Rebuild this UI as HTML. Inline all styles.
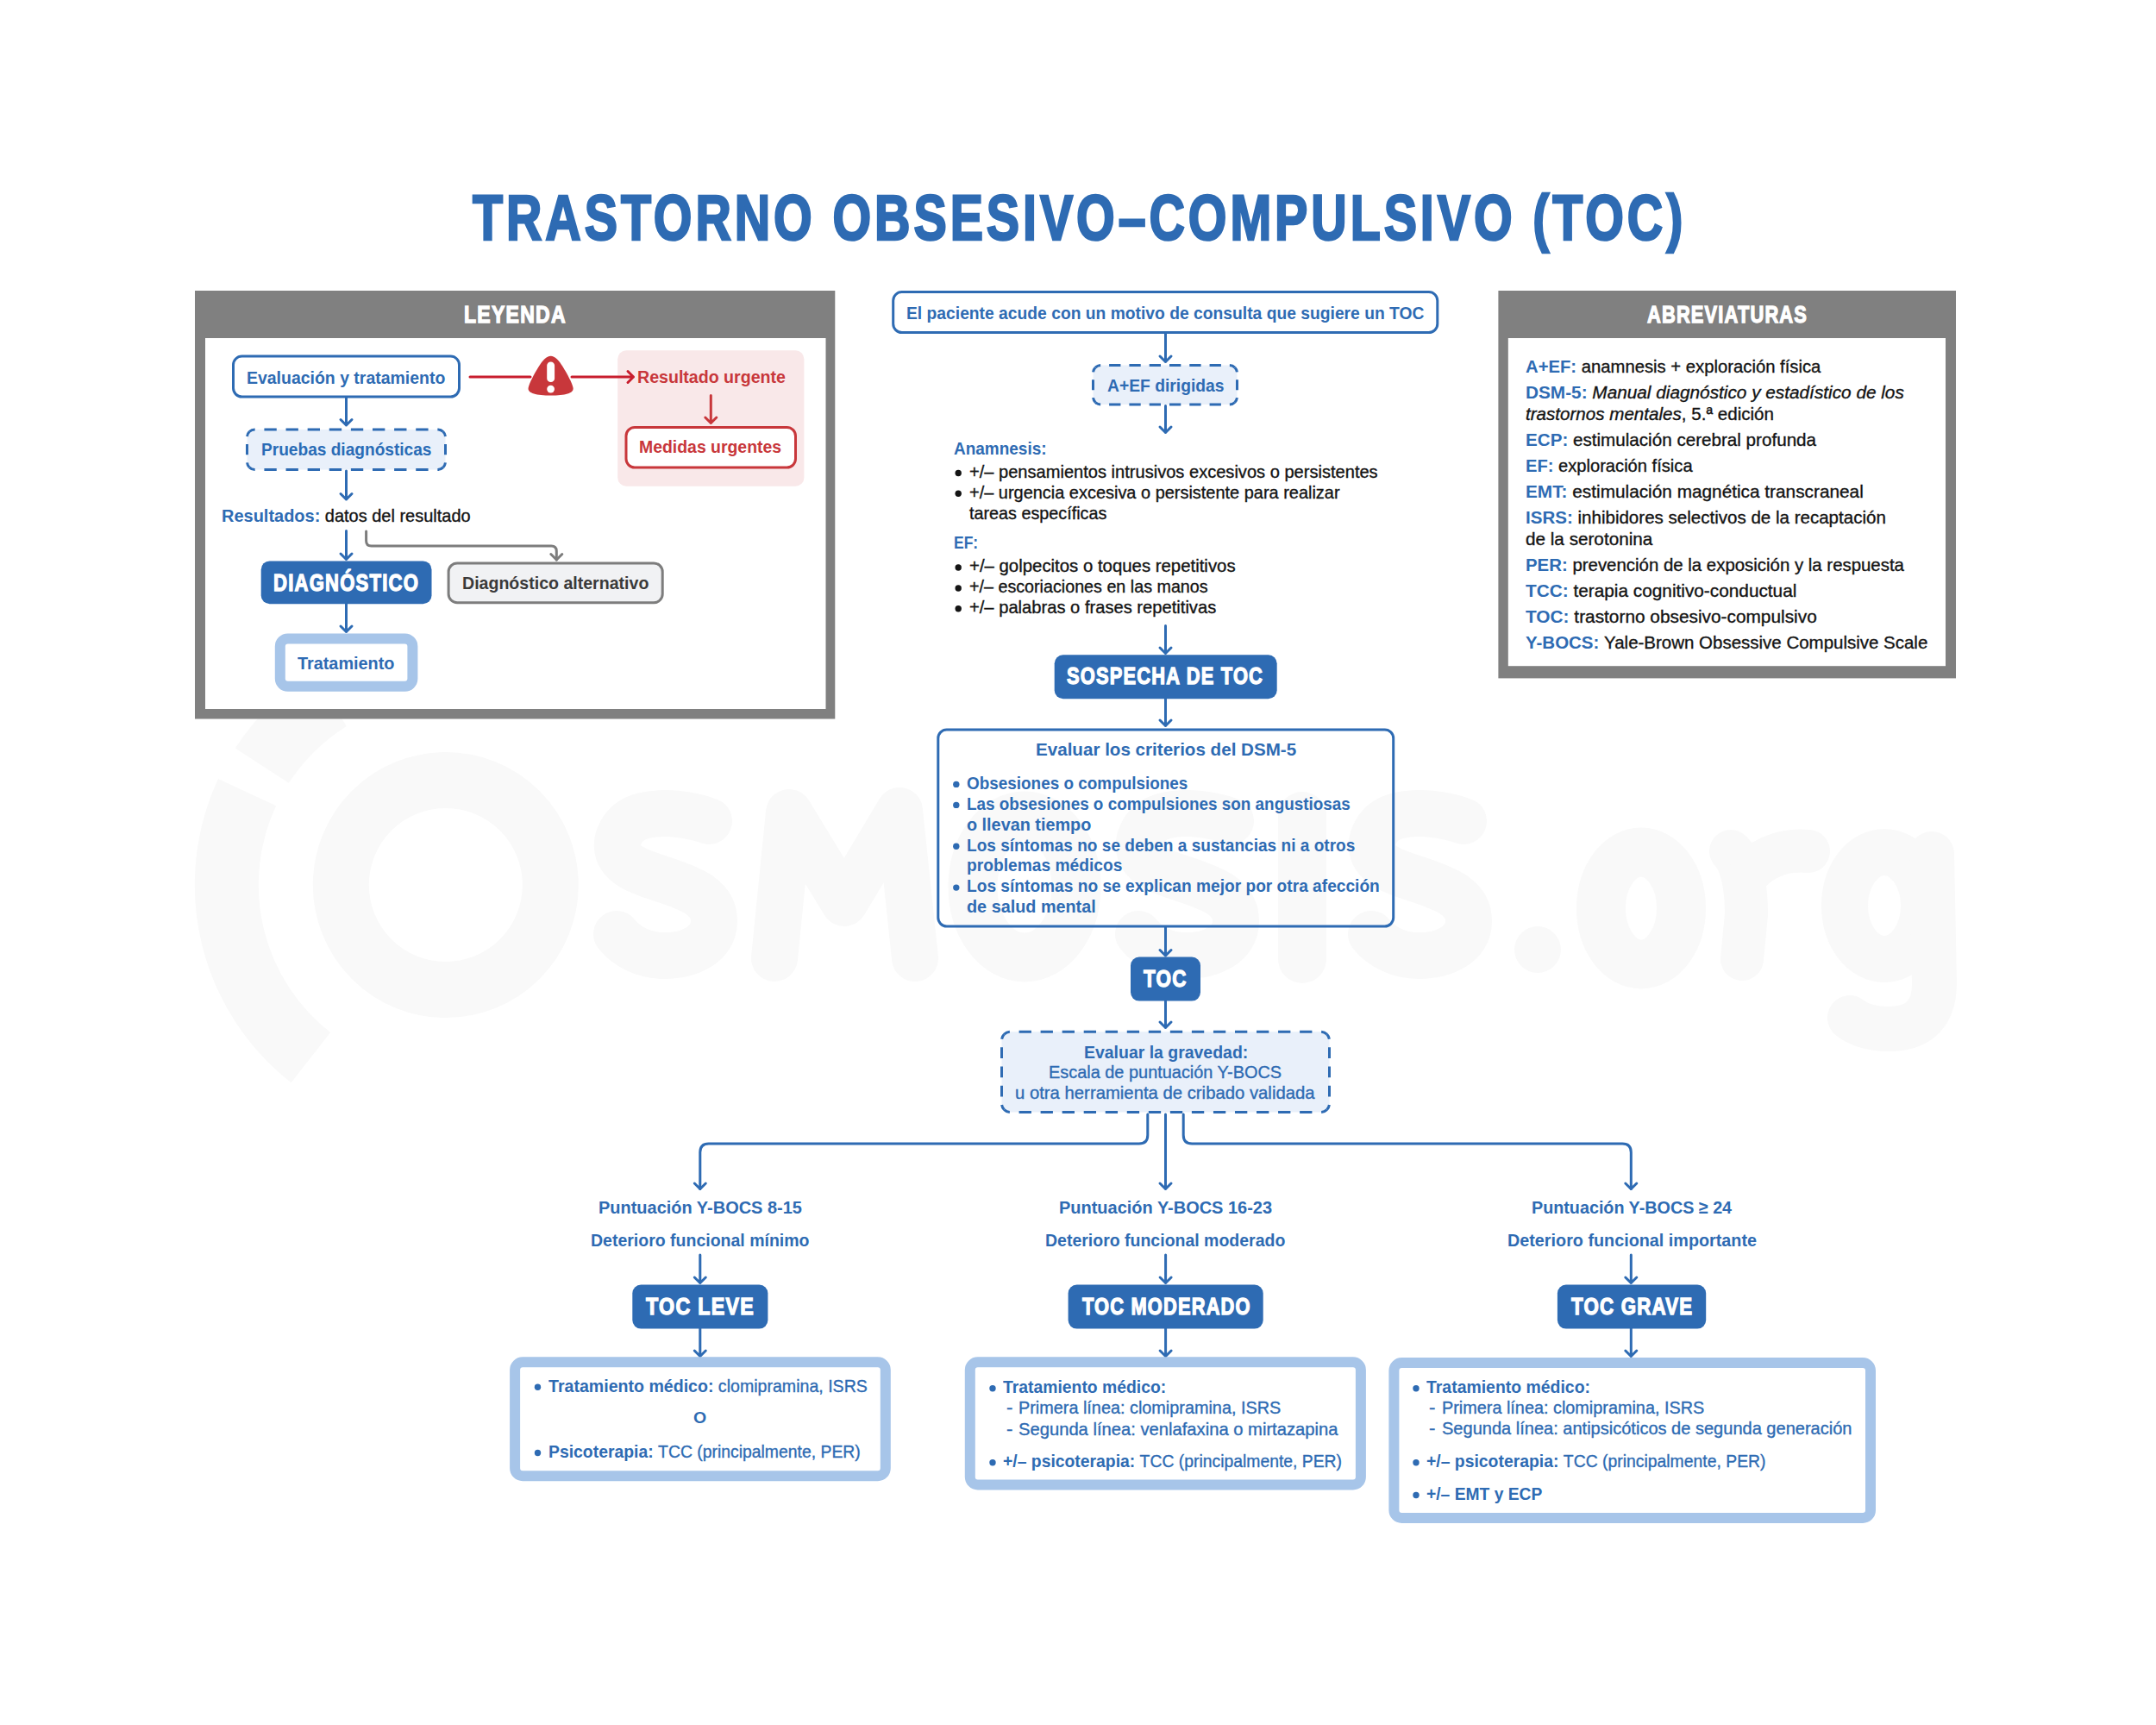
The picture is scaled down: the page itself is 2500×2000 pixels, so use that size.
<!DOCTYPE html>
<html><head><meta charset="utf-8"><style>
html,body{margin:0;padding:0;background:#fff;width:2500px;height:2000px;overflow:hidden;}
.t{position:absolute;white-space:nowrap;line-height:1;font-family:"Liberation Sans",sans-serif;transform-origin:0 0;}
.r{font-weight:normal;-webkit-text-stroke:0.35px currentColor;}
.n{-webkit-text-stroke:0.35px currentColor;}
svg{position:absolute;left:0;top:0;}
</style></head><body>

<svg width="2500" height="2000" viewBox="0 0 2500 2000">
<circle cx="516.8" cy="1026" r="121.5" fill="none" stroke="#f9f9f9" stroke-width="65"/>
<path d="M360.4 1226.2 A254.0 254.0 0 0 1 286.6 918.7" fill="none" stroke="#f9f9f9" stroke-width="74.0" stroke-linecap="butt" stroke-linejoin="round"/>
<path d="M303.8 887.7 A254.0 254.0 0 0 1 382.2 810.6" fill="none" stroke="#f9f9f9" stroke-width="74.0" stroke-linecap="butt" stroke-linejoin="round"/>
<path d="M822.0 952.0 C800.0 944.0 770.0 940.0 745.0 946.0 C720.0 953.0 713.0 975.0 717.0 988.0 C723.0 1005.0 745.0 1012.0 770.0 1020.0 C800.0 1030.0 828.0 1040.0 828.0 1068.0 C828.0 1095.0 800.0 1108.0 770.0 1108.0 C747.0 1108.0 727.0 1098.0 715.0 1083.0" fill="none" stroke="#f9f9f9" stroke-width="54.0" stroke-linecap="round" stroke-linejoin="round"/>
<path d="M898 1111 L915 942 L979 1047 L1043 940 L1061 1111" fill="none" stroke="#f9f9f9" stroke-width="54.0" stroke-linecap="round" stroke-linejoin="round"/>
<ellipse cx="1188" cy="1028" rx="60" ry="82" fill="none" stroke="#f9f9f9" stroke-width="57"/>
<path d="M1427.0 952.0 C1405.0 944.0 1375.0 940.0 1350.0 946.0 C1325.0 953.0 1318.0 975.0 1322.0 988.0 C1328.0 1005.0 1350.0 1012.0 1375.0 1020.0 C1405.0 1030.0 1433.0 1040.0 1433.0 1068.0 C1433.0 1095.0 1405.0 1108.0 1375.0 1108.0 C1352.0 1108.0 1332.0 1098.0 1320.0 1083.0" fill="none" stroke="#f9f9f9" stroke-width="54.0" stroke-linecap="round" stroke-linejoin="round"/>
<path d="M1510 946 L1510 1112" fill="none" stroke="#f9f9f9" stroke-width="56.0" stroke-linecap="round" stroke-linejoin="round"/>
<path d="M1697.0 952.0 C1675.0 944.0 1645.0 940.0 1620.0 946.0 C1595.0 953.0 1588.0 975.0 1592.0 988.0 C1598.0 1005.0 1620.0 1012.0 1645.0 1020.0 C1675.0 1030.0 1703.0 1040.0 1703.0 1068.0 C1703.0 1095.0 1675.0 1108.0 1645.0 1108.0 C1622.0 1108.0 1602.0 1098.0 1590.0 1083.0" fill="none" stroke="#f9f9f9" stroke-width="54.0" stroke-linecap="round" stroke-linejoin="round"/>
<circle cx="1783" cy="1101" r="27" fill="#f9f9f9"/>
<ellipse cx="1903" cy="1053" rx="46.5" ry="65" fill="none" stroke="#f9f9f9" stroke-width="57"/>
<path d="M2007 987 C2020 1000 2025 1030 2025 1060 L2020 1112" fill="none" stroke="#f9f9f9" stroke-width="50.0" stroke-linecap="round" stroke-linejoin="round"/>
<path d="M2030 1010 C2050 990 2075 985 2097 987" fill="none" stroke="#f9f9f9" stroke-width="50.0" stroke-linecap="round" stroke-linejoin="round"/>
<ellipse cx="2185" cy="1050" rx="46" ry="62" fill="none" stroke="#f9f9f9" stroke-width="54"/>
<path d="M2240 990 L2243 1140 C2243 1180 2220 1193 2190 1193 C2170 1193 2155 1188 2145 1180" fill="none" stroke="#f9f9f9" stroke-width="52.0" stroke-linecap="round" stroke-linejoin="round"/>
<rect x="226.0" y="337.0" width="742.3" height="496.5" rx="0.0" fill="#808080"/>
<rect x="238.0" y="392.0" width="719.5" height="430.0" rx="0.0" fill="#fff"/>
<rect x="270.5" y="413.1" width="262.0" height="46.9" rx="10.0" fill="#fff" stroke="#2e6bb3" stroke-width="3.0"/>
<path d="M401.5 461.0 V493.0 M395.0 486.5 L401.5 493.0 L408.0 486.5" fill="none" stroke="#2e6bb3" stroke-width="3.0" stroke-linecap="round" stroke-linejoin="round"/>
<rect x="286.5" y="497.9" width="230.0" height="46.6" rx="9.0" fill="#e9f0fa"/>
<path d="M289.14 500.54 A9.00 9.00 0 0 1 295.50 497.90 H507.50 A9.00 9.00 0 0 1 513.86 500.54" fill="none" stroke="#2e6bb3" stroke-width="3.0" pathLength="220.50" stroke-dasharray="14.00 10.50" stroke-dashoffset="7.00" stroke-linecap="butt"/>
<path d="M513.86 500.54 A9.00 9.00 0 0 1 516.50 506.90 V535.50 A9.00 9.00 0 0 1 513.86 541.86" fill="none" stroke="#2e6bb3" stroke-width="3.0" pathLength="49.00" stroke-dasharray="14.00 10.50" stroke-dashoffset="7.00" stroke-linecap="butt"/>
<path d="M513.86 541.86 A9.00 9.00 0 0 1 507.50 544.50 H295.50 A9.00 9.00 0 0 1 289.14 541.86" fill="none" stroke="#2e6bb3" stroke-width="3.0" pathLength="220.50" stroke-dasharray="14.00 10.50" stroke-dashoffset="7.00" stroke-linecap="butt"/>
<path d="M289.14 541.86 A9.00 9.00 0 0 1 286.50 535.50 V506.90 A9.00 9.00 0 0 1 289.14 500.54" fill="none" stroke="#2e6bb3" stroke-width="3.0" pathLength="49.00" stroke-dasharray="14.00 10.50" stroke-dashoffset="7.00" stroke-linecap="butt"/>
<path d="M401.5 546.0 V579.0 M395.0 572.5 L401.5 579.0 L408.0 572.5" fill="none" stroke="#2e6bb3" stroke-width="3.0" stroke-linecap="round" stroke-linejoin="round"/>
<path d="M401.5 615.5 V648.5 M395.0 642.0 L401.5 648.5 L408.0 642.0" fill="none" stroke="#2e6bb3" stroke-width="3.0" stroke-linecap="round" stroke-linejoin="round"/>
<path d="M424.6 616 V627 Q424.6 633 430.6 633 H639.3 Q645.3 633 645.3 639 V649" fill="none" stroke="#7d7d7d" stroke-width="3.0" stroke-linecap="round" stroke-linejoin="round"/>
<path d="M638.8 642.5 L645.3 649 L651.8 642.5" fill="none" stroke="#7d7d7d" stroke-width="3.0" stroke-linecap="round" stroke-linejoin="round"/>
<rect x="302.7" y="650.4" width="197.8" height="49.8" rx="10.0" fill="#2e6bb3"/>
<rect x="520.1" y="653.0" width="248.1" height="45.7" rx="10.0" fill="#f1f2f4" stroke="#7d7d7d" stroke-width="3.0"/>
<path d="M401.5 700.0 V732.5 M395.0 726.0 L401.5 732.5 L408.0 726.0" fill="none" stroke="#2e6bb3" stroke-width="3.0" stroke-linecap="round" stroke-linejoin="round"/>
<rect x="324.8" y="740.4" width="153.6" height="55.4" rx="9.0" fill="#fff" stroke="#a7c5e9" stroke-width="12.0"/>
<rect x="716.2" y="406.2" width="216.2" height="157.5" rx="10.0" fill="#f9e8e9"/>
<path d="M545 437 H615" fill="none" stroke="#c81e2e" stroke-width="3.0" stroke-linecap="round" stroke-linejoin="round"/>
<path d="M663 437 H734.5 M728 430.5 L734.5 437 L728 443.5" fill="none" stroke="#c81e2e" stroke-width="3.0" stroke-linecap="round" stroke-linejoin="round"/>
<path d="M638.6 412.8 C643.5 412.8 648 418 652.5 425 C658 434 663.5 444 664.6 450 C665.5 456 655 458.6 638.6 458.6 C622.2 458.6 611.7 456 612.6 450 C613.7 444 619.2 434 624.7 425 C629.2 418 633.7 412.8 638.6 412.8 Z" fill="#c8373b"/>
<rect x="634.2" y="419.4" width="8.9" height="23.7" rx="4.45" fill="#fff"/><circle cx="638.6" cy="451.1" r="4.4" fill="#fff"/>
<path d="M824.3 458.4 V490.5 M817.8 484.0 L824.3 490.5 L830.8 484.0" fill="none" stroke="#c8373b" stroke-width="3.0" stroke-linecap="round" stroke-linejoin="round"/>
<rect x="726.0" y="495.5" width="196.5" height="46.6" rx="10.0" fill="#fff" stroke="#c8373b" stroke-width="3.0"/>
<rect x="1737.4" y="337.0" width="530.6" height="449.4" rx="0.0" fill="#808080"/>
<rect x="1748.8" y="392.0" width="507.2" height="380.2" rx="0.0" fill="#fff"/>
<rect x="1035.7" y="338.6" width="631.1" height="46.9" rx="10.0" fill="#fff" stroke="#2e6bb3" stroke-width="3.0"/>
<path d="M1351.5 386.0 V419.5 M1345.0 413.0 L1351.5 419.5 L1358.0 413.0" fill="none" stroke="#2e6bb3" stroke-width="3.0" stroke-linecap="round" stroke-linejoin="round"/>
<rect x="1267.5" y="423.5" width="167.0" height="45.6" rx="9.0" fill="#e9f0fa"/>
<path d="M1270.14 426.14 A9.00 9.00 0 0 1 1276.50 423.50 H1425.50 A9.00 9.00 0 0 1 1431.86 426.14" fill="none" stroke="#2e6bb3" stroke-width="3.0" pathLength="171.50" stroke-dasharray="14.00 10.50" stroke-dashoffset="7.00" stroke-linecap="butt"/>
<path d="M1431.86 426.14 A9.00 9.00 0 0 1 1434.50 432.50 V460.10 A9.00 9.00 0 0 1 1431.86 466.46" fill="none" stroke="#2e6bb3" stroke-width="3.0" pathLength="49.00" stroke-dasharray="14.00 10.50" stroke-dashoffset="7.00" stroke-linecap="butt"/>
<path d="M1431.86 466.46 A9.00 9.00 0 0 1 1425.50 469.10 H1276.50 A9.00 9.00 0 0 1 1270.14 466.46" fill="none" stroke="#2e6bb3" stroke-width="3.0" pathLength="171.50" stroke-dasharray="14.00 10.50" stroke-dashoffset="7.00" stroke-linecap="butt"/>
<path d="M1270.14 466.46 A9.00 9.00 0 0 1 1267.50 460.10 V432.50 A9.00 9.00 0 0 1 1270.14 426.14" fill="none" stroke="#2e6bb3" stroke-width="3.0" pathLength="49.00" stroke-dasharray="14.00 10.50" stroke-dashoffset="7.00" stroke-linecap="butt"/>
<path d="M1351.5 470.6 V501.5 M1345.0 495.0 L1351.5 501.5 L1358.0 495.0" fill="none" stroke="#2e6bb3" stroke-width="3.0" stroke-linecap="round" stroke-linejoin="round"/>
<circle cx="1111.2" cy="548.5" r="3.7" fill="#141414"/>
<circle cx="1111.2" cy="572.3" r="3.7" fill="#141414"/>
<circle cx="1111.2" cy="658.0" r="3.7" fill="#141414"/>
<circle cx="1111.2" cy="682.0" r="3.7" fill="#141414"/>
<circle cx="1111.2" cy="705.8" r="3.7" fill="#141414"/>
<path d="M1351.5 725.5 V757.5 M1345.0 751.0 L1351.5 757.5 L1358.0 751.0" fill="none" stroke="#2e6bb3" stroke-width="3.0" stroke-linecap="round" stroke-linejoin="round"/>
<rect x="1222.7" y="759.3" width="258.0" height="50.9" rx="10.0" fill="#2e6bb3"/>
<path d="M1351.5 810.0 V841.5 M1345.0 835.0 L1351.5 841.5 L1358.0 835.0" fill="none" stroke="#2e6bb3" stroke-width="3.0" stroke-linecap="round" stroke-linejoin="round"/>
<rect x="1087.8" y="846.0" width="527.9" height="228.1" rx="10.0" fill="none" stroke="#2e6bb3" stroke-width="3.0"/>
<circle cx="1108.8" cy="909.4" r="3.7" fill="#2e6bb3"/>
<circle cx="1108.8" cy="933.4" r="3.7" fill="#2e6bb3"/>
<circle cx="1108.8" cy="981.3" r="3.7" fill="#2e6bb3"/>
<circle cx="1108.8" cy="1029.1" r="3.7" fill="#2e6bb3"/>
<path d="M1351.5 1075.0 V1108.0 M1345.0 1101.5 L1351.5 1108.0 L1358.0 1101.5" fill="none" stroke="#2e6bb3" stroke-width="3.0" stroke-linecap="round" stroke-linejoin="round"/>
<rect x="1311.0" y="1109.6" width="81.0" height="51.0" rx="10.0" fill="#2e6bb3"/>
<path d="M1351.5 1160.5 V1191.5 M1345.0 1185.0 L1351.5 1191.5 L1358.0 1185.0" fill="none" stroke="#2e6bb3" stroke-width="3.0" stroke-linecap="round" stroke-linejoin="round"/>
<rect x="1161.5" y="1196.2" width="380.0" height="93.3" rx="10.0" fill="#e9f0fa"/>
<path d="M1164.43 1199.13 A10.00 10.00 0 0 1 1171.50 1196.20 H1531.50 A10.00 10.00 0 0 1 1538.57 1199.13" fill="none" stroke="#2e6bb3" stroke-width="3.0" pathLength="367.50" stroke-dasharray="14.00 10.50" stroke-dashoffset="7.00" stroke-linecap="butt"/>
<path d="M1538.57 1199.13 A10.00 10.00 0 0 1 1541.50 1206.20 V1279.50 A10.00 10.00 0 0 1 1538.57 1286.57" fill="none" stroke="#2e6bb3" stroke-width="3.0" pathLength="98.00" stroke-dasharray="14.00 10.50" stroke-dashoffset="7.00" stroke-linecap="butt"/>
<path d="M1538.57 1286.57 A10.00 10.00 0 0 1 1531.50 1289.50 H1171.50 A10.00 10.00 0 0 1 1164.43 1286.57" fill="none" stroke="#2e6bb3" stroke-width="3.0" pathLength="367.50" stroke-dasharray="14.00 10.50" stroke-dashoffset="7.00" stroke-linecap="butt"/>
<path d="M1164.43 1286.57 A10.00 10.00 0 0 1 1161.50 1279.50 V1206.20 A10.00 10.00 0 0 1 1164.43 1199.13" fill="none" stroke="#2e6bb3" stroke-width="3.0" pathLength="98.00" stroke-dasharray="14.00 10.50" stroke-dashoffset="7.00" stroke-linecap="butt"/>
<path d="M1330.8 1292 V1316 Q1330.8 1326 1320.8 1326 H821.8 Q811.8 1326 811.8 1336 V1378.5" fill="none" stroke="#2e6bb3" stroke-width="3.0" stroke-linecap="round" stroke-linejoin="round"/>
<path d="M805.3 1372 L811.8 1378.5 L818.3 1372" fill="none" stroke="#2e6bb3" stroke-width="3.0" stroke-linecap="round" stroke-linejoin="round"/>
<path d="M1351.5 1292.0 V1378.5 M1345.0 1372.0 L1351.5 1378.5 L1358.0 1372.0" fill="none" stroke="#2e6bb3" stroke-width="3.0" stroke-linecap="round" stroke-linejoin="round"/>
<path d="M1372.2 1292 V1316 Q1372.2 1326 1382.2 1326 H1881.3 Q1891.3 1326 1891.3 1336 V1378.5" fill="none" stroke="#2e6bb3" stroke-width="3.0" stroke-linecap="round" stroke-linejoin="round"/>
<path d="M1884.8 1372 L1891.3 1378.5 L1897.8 1372" fill="none" stroke="#2e6bb3" stroke-width="3.0" stroke-linecap="round" stroke-linejoin="round"/>
<path d="M811.8 1455.0 V1487.5 M805.3 1481.0 L811.8 1487.5 L818.3 1481.0" fill="none" stroke="#2e6bb3" stroke-width="3.0" stroke-linecap="round" stroke-linejoin="round"/>
<path d="M1351.6 1455.0 V1487.5 M1345.1 1481.0 L1351.6 1487.5 L1358.1 1481.0" fill="none" stroke="#2e6bb3" stroke-width="3.0" stroke-linecap="round" stroke-linejoin="round"/>
<path d="M1891.3 1455.0 V1487.5 M1884.8 1481.0 L1891.3 1487.5 L1897.8 1481.0" fill="none" stroke="#2e6bb3" stroke-width="3.0" stroke-linecap="round" stroke-linejoin="round"/>
<rect x="733.3" y="1489.6" width="157.1" height="51.0" rx="10.0" fill="#2e6bb3"/>
<rect x="1238.6" y="1489.6" width="226.1" height="51.0" rx="10.0" fill="#2e6bb3"/>
<rect x="1805.9" y="1489.6" width="172.3" height="51.0" rx="10.0" fill="#2e6bb3"/>
<path d="M811.8 1540.0 V1572.5 M805.3 1566.0 L811.8 1572.5 L818.3 1566.0" fill="none" stroke="#2e6bb3" stroke-width="3.0" stroke-linecap="round" stroke-linejoin="round"/>
<path d="M1351.6 1540.0 V1572.5 M1345.1 1566.0 L1351.6 1572.5 L1358.1 1566.0" fill="none" stroke="#2e6bb3" stroke-width="3.0" stroke-linecap="round" stroke-linejoin="round"/>
<path d="M1891.3 1540.0 V1572.5 M1884.8 1566.0 L1891.3 1572.5 L1897.8 1566.0" fill="none" stroke="#2e6bb3" stroke-width="3.0" stroke-linecap="round" stroke-linejoin="round"/>
<rect x="597.1" y="1579.3" width="429.7" height="131.9" rx="9.0" fill="#fff" stroke="#a7c5e9" stroke-width="12.0"/>
<rect x="1124.8" y="1579.3" width="453.1" height="142.2" rx="9.0" fill="#fff" stroke="#a7c5e9" stroke-width="12.0"/>
<rect x="1616.4" y="1580.0" width="552.6" height="180.0" rx="9.0" fill="#fff" stroke="#a7c5e9" stroke-width="12.0"/>
<circle cx="623.5" cy="1608.3" r="3.7" fill="#2e6bb3"/>
<circle cx="623.5" cy="1684.5" r="3.7" fill="#2e6bb3"/>
<circle cx="1151.0" cy="1609.8" r="3.7" fill="#2e6bb3"/>
<circle cx="1151.0" cy="1695.8" r="3.7" fill="#2e6bb3"/>
<circle cx="1642.0" cy="1609.8" r="3.7" fill="#2e6bb3"/>
<circle cx="1642.0" cy="1695.8" r="3.7" fill="#2e6bb3"/>
<circle cx="1642.0" cy="1733.5" r="3.7" fill="#2e6bb3"/>
</svg>
<div class="t" id="t0" style="left:548.2px;top:216.7px;font-size:73.40px;font-weight:bold;color:#2e6bb3;transform:scaleX(0.7821);-webkit-text-stroke:2.50px #2e6bb3;letter-spacing:5px">TRASTORNO OBSESIVO–COMPULSIVO (TOC)</div>
<div class="t" id="t1" style="left:538.0px;top:350.9px;font-size:27.91px;font-weight:bold;color:#fff;transform:scaleX(0.8257);-webkit-text-stroke:1.30px #fff;letter-spacing:1.5px">LEYENDA</div>
<div class="t" id="t2" style="left:286.1px;top:427.8px;font-size:20.78px;font-weight:bold;color:#2e6bb3;transform:scaleX(0.9370);">Evaluación y tratamiento</div>
<div class="t" id="t3" style="left:302.6px;top:511.3px;font-size:20.78px;font-weight:bold;color:#2a6cb6;transform:scaleX(0.9200);">Pruebas diagnósticas</div>
<div class="t" id="t4" style="left:257.0px;top:588.3px;font-size:20.78px;font-weight:bold;color:#2e6bb3;transform:scaleX(0.9617);">Resultados: <span class="r" style="color:#141414">datos del resultado</span></div>
<div class="t" id="t5" style="left:317.2px;top:661.9px;font-size:27.91px;font-weight:bold;color:#fff;transform:scaleX(0.7920);-webkit-text-stroke:1.30px #fff;letter-spacing:1.5px">DIAGNÓSTICO</div>
<div class="t" id="t6" style="left:535.5px;top:666.3px;font-size:20.78px;font-weight:bold;color:#3a3a3a;transform:scaleX(0.9422);">Diagnóstico alternativo</div>
<div class="t" id="t7" style="left:344.8px;top:759.3px;font-size:20.78px;font-weight:bold;color:#2e6bb3;transform:scaleX(0.9551);">Tratamiento</div>
<div class="t" id="t8" style="left:738.5px;top:427.1px;font-size:20.78px;font-weight:bold;color:#c8373b;transform:scaleX(0.9429);">Resultado urgente</div>
<div class="t" id="t9" style="left:741.4px;top:508.3px;font-size:20.78px;font-weight:bold;color:#c8373b;transform:scaleX(0.9350);">Medidas urgentes</div>
<div class="t" id="t10" style="left:1051.1px;top:353.3px;font-size:20.78px;font-weight:bold;color:#2e6bb3;transform:scaleX(0.9281);">El paciente acude con un motivo de consulta que sugiere un TOC</div>
<div class="t" id="t11" style="left:1283.9px;top:437.1px;font-size:20.78px;font-weight:bold;color:#2e6bb3;transform:scaleX(0.9281);">A+EF dirigidas</div>
<div class="t" id="t12" style="left:1105.8px;top:509.5px;font-size:20.78px;font-weight:600;color:#2e6bb3;transform:scaleX(0.9136);">Anamnesis:</div>
<div class="t n" id="t13" style="left:1123.8px;top:536.8px;font-size:20.78px;font-weight:normal;color:#141414;transform:scaleX(0.9667);">+/– pensamientos intrusivos excesivos o persistentes</div>
<div class="t n" id="t14" style="left:1123.8px;top:560.7px;font-size:20.78px;font-weight:normal;color:#141414;transform:scaleX(0.9604);">+/– urgencia excesiva o persistente para realizar</div>
<div class="t n" id="t15" style="left:1123.8px;top:584.5px;font-size:20.78px;font-weight:normal;color:#141414;transform:scaleX(0.9521);">tareas específicas</div>
<div class="t" id="t16" style="left:1105.9px;top:619.0px;font-size:20.78px;font-weight:600;color:#2e6bb3;transform:scaleX(0.8424);">EF:</div>
<div class="t n" id="t17" style="left:1123.8px;top:646.3px;font-size:20.78px;font-weight:normal;color:#141414;transform:scaleX(0.9810);">+/– golpecitos o toques repetitivos</div>
<div class="t n" id="t18" style="left:1123.9px;top:670.3px;font-size:20.78px;font-weight:normal;color:#141414;transform:scaleX(0.9491);">+/– escoriaciones en las manos</div>
<div class="t n" id="t19" style="left:1123.8px;top:694.0px;font-size:20.78px;font-weight:normal;color:#141414;transform:scaleX(0.9705);">+/– palabras o frases repetitivas</div>
<div class="t" id="t20" style="left:1237.0px;top:769.8px;font-size:27.91px;font-weight:bold;color:#fff;transform:scaleX(0.7845);-webkit-text-stroke:1.30px #fff;letter-spacing:1.5px">SOSPECHA DE TOC</div>
<div class="t" id="t21" style="left:1200.5px;top:859.3px;font-size:20.78px;font-weight:bold;color:#2e6bb3;transform:scaleX(0.9918);">Evaluar los criterios del DSM-5</div>
<div class="t" id="t22" style="left:1121.1px;top:897.6px;font-size:20.78px;font-weight:600;color:#2e6bb3;transform:scaleX(0.9106);">Obsesiones o compulsiones</div>
<div class="t" id="t23" style="left:1121.1px;top:921.6px;font-size:20.78px;font-weight:600;color:#2e6bb3;transform:scaleX(0.9090);">Las obsesiones o compulsiones son angustiosas</div>
<div class="t" id="t24" style="left:1121.0px;top:945.5px;font-size:20.78px;font-weight:600;color:#2e6bb3;transform:scaleX(0.9543);">o llevan tiempo</div>
<div class="t" id="t25" style="left:1121.1px;top:969.5px;font-size:20.78px;font-weight:600;color:#2e6bb3;transform:scaleX(0.9182);">Los síntomas no se deben a sustancias ni a otros</div>
<div class="t" id="t26" style="left:1121.1px;top:993.4px;font-size:20.78px;font-weight:600;color:#2e6bb3;transform:scaleX(0.9251);">problemas médicos</div>
<div class="t" id="t27" style="left:1121.1px;top:1017.3px;font-size:20.78px;font-weight:600;color:#2e6bb3;transform:scaleX(0.9220);">Los síntomas no se explican mejor por otra afección</div>
<div class="t" id="t28" style="left:1121.0px;top:1041.3px;font-size:20.78px;font-weight:600;color:#2e6bb3;transform:scaleX(0.9541);">de salud mental</div>
<div class="t" id="t29" style="left:1326.2px;top:1120.5px;font-size:27.91px;font-weight:bold;color:#fff;transform:scaleX(0.8048);-webkit-text-stroke:1.30px #fff;letter-spacing:1.5px">TOC</div>
<div class="t" id="t30" style="left:1256.5px;top:1209.6px;font-size:20.78px;font-weight:bold;color:#2e6bb3;transform:scaleX(0.9365);">Evaluar la gravedad:</div>
<div class="t n" id="t31" style="left:1216.3px;top:1233.3px;font-size:20.78px;font-weight:normal;color:#2e6bb3;transform:scaleX(0.9589);">Escala de puntuación Y-BOCS</div>
<div class="t n" id="t32" style="left:1177.3px;top:1257.0px;font-size:20.78px;font-weight:normal;color:#2e6bb3;transform:scaleX(0.9775);">u otra herramienta de cribado validada</div>
<div class="t" id="t33" style="left:694.0px;top:1390.1px;font-size:20.78px;font-weight:bold;color:#2e6bb3;transform:scaleX(0.9612);">Puntuación Y-BOCS 8-15</div>
<div class="t" id="t34" style="left:685.1px;top:1427.9px;font-size:20.78px;font-weight:bold;color:#2e6bb3;transform:scaleX(0.9389);">Deterioro funcional mínimo</div>
<div class="t" id="t35" style="left:1227.6px;top:1390.1px;font-size:20.78px;font-weight:bold;color:#2e6bb3;transform:scaleX(0.9615);">Puntuación Y-BOCS 16-23</div>
<div class="t" id="t36" style="left:1212.1px;top:1427.9px;font-size:20.78px;font-weight:bold;color:#2e6bb3;transform:scaleX(0.9387);">Deterioro funcional moderado</div>
<div class="t" id="t37" style="left:1775.8px;top:1389.7px;font-size:20.78px;font-weight:bold;color:#2e6bb3;transform:scaleX(0.9508);">Puntuación Y-BOCS ≥ 24</div>
<div class="t" id="t38" style="left:1747.9px;top:1427.6px;font-size:20.78px;font-weight:bold;color:#2e6bb3;transform:scaleX(0.9525);">Deterioro funcional importante</div>
<div class="t" id="t39" style="left:749.2px;top:1500.9px;font-size:27.91px;font-weight:bold;color:#fff;transform:scaleX(0.8344);-webkit-text-stroke:1.30px #fff;letter-spacing:1.5px">TOC LEVE</div>
<div class="t" id="t40" style="left:1254.8px;top:1500.9px;font-size:27.91px;font-weight:bold;color:#fff;transform:scaleX(0.7828);-webkit-text-stroke:1.30px #fff;letter-spacing:1.5px">TOC MODERADO</div>
<div class="t" id="t41" style="left:1821.8px;top:1500.9px;font-size:27.91px;font-weight:bold;color:#fff;transform:scaleX(0.7989);-webkit-text-stroke:1.30px #fff;letter-spacing:1.5px">TOC GRAVE</div>
<div class="t" id="t42" style="left:635.9px;top:1596.8px;font-size:20.78px;font-weight:bold;color:#2e6bb3;transform:scaleX(0.9426);">Tratamiento médico: <span class="r">clomipramina, ISRS</span></div>
<div class="t" id="t43" style="left:804.0px;top:1635.3px;font-size:18.90px;font-weight:bold;color:#2e6bb3;transform:scaleX(1.0333);">O</div>
<div class="t" id="t44" style="left:635.9px;top:1673.0px;font-size:20.78px;font-weight:bold;color:#2e6bb3;transform:scaleX(0.9330);">Psicoterapia: <span class="r">TCC (principalmente, PER)</span></div>
<div class="t" id="t45" style="left:1163.4px;top:1598.3px;font-size:20.78px;font-weight:bold;color:#2e6bb3;transform:scaleX(0.9320);">Tratamiento médico:</div>
<div class="t n" id="t46" style="left:1166.9px;top:1621.9px;font-size:20.78px;font-weight:normal;color:#2e6bb3;transform:scaleX(1.0714);">-</div>
<div class="t n" id="t47" style="left:1180.8px;top:1621.9px;font-size:20.78px;font-weight:normal;color:#2e6bb3;transform:scaleX(0.9552);">Primera línea: clomipramina, ISRS</div>
<div class="t n" id="t48" style="left:1166.9px;top:1646.5px;font-size:20.78px;font-weight:normal;color:#2e6bb3;transform:scaleX(1.0714);">-</div>
<div class="t n" id="t49" style="left:1180.8px;top:1646.5px;font-size:20.78px;font-weight:normal;color:#2e6bb3;transform:scaleX(0.9724);">Segunda línea: venlafaxina o mirtazapina</div>
<div class="t" id="t50" style="left:1163.4px;top:1684.3px;font-size:20.78px;font-weight:bold;color:#2e6bb3;transform:scaleX(0.9318);">+/– psicoterapia: <span class="r">TCC (principalmente, PER)</span></div>
<div class="t" id="t51" style="left:1654.1px;top:1598.3px;font-size:20.78px;font-weight:bold;color:#2e6bb3;transform:scaleX(0.9355);">Tratamiento médico:</div>
<div class="t n" id="t52" style="left:1656.9px;top:1622.3px;font-size:20.78px;font-weight:normal;color:#2e6bb3;transform:scaleX(1.0714);">-</div>
<div class="t n" id="t53" style="left:1672.0px;top:1622.3px;font-size:20.78px;font-weight:normal;color:#2e6bb3;transform:scaleX(0.9552);">Primera línea: clomipramina, ISRS</div>
<div class="t n" id="t54" style="left:1656.9px;top:1646.3px;font-size:20.78px;font-weight:normal;color:#2e6bb3;transform:scaleX(1.0714);">-</div>
<div class="t n" id="t55" style="left:1672.0px;top:1646.3px;font-size:20.78px;font-weight:normal;color:#2e6bb3;transform:scaleX(0.9645);">Segunda línea: antipsicóticos de segunda generación</div>
<div class="t" id="t56" style="left:1654.1px;top:1684.1px;font-size:20.78px;font-weight:bold;color:#2e6bb3;transform:scaleX(0.9329);">+/– psicoterapia: <span class="r">TCC (principalmente, PER)</span></div>
<div class="t" id="t57" style="left:1654.1px;top:1722.0px;font-size:20.78px;font-weight:bold;color:#2e6bb3;transform:scaleX(0.9276);">+/– EMT y ECP</div>
<div class="t" id="t58" style="left:1909.6px;top:350.9px;font-size:27.91px;font-weight:bold;color:#fff;transform:scaleX(0.7828);-webkit-text-stroke:1.30px #fff;letter-spacing:1.5px">ABREVIATURAS</div>
<div class="t" id="t59" style="left:1769.0px;top:415.3px;font-size:20.78px;font-weight:bold;color:#2e6bb3;transform:scaleX(0.9758);">A+EF: <span class="r" style="color:#141414">anamnesis + exploración física</span></div>
<div class="t" id="t60" style="left:1769.0px;top:445.3px;font-size:20.78px;font-weight:bold;color:#2e6bb3;transform:scaleX(1.0005);">DSM-5: <span class="r" style="color:#141414"><i>Manual diagnóstico y estadístico de los</i></span></div>
<div class="t n" id="t61" style="left:1769.0px;top:470.3px;font-size:20.78px;font-weight:normal;color:#2e6bb3;transform:scaleX(0.9914);"><span class="r" style="color:#141414"><i>trastornos mentales</i>, 5.ª edición</span></div>
<div class="t" id="t62" style="left:1769.0px;top:500.3px;font-size:20.78px;font-weight:bold;color:#2e6bb3;transform:scaleX(0.9932);">ECP: <span class="r" style="color:#141414">estimulación cerebral profunda</span></div>
<div class="t" id="t63" style="left:1769.0px;top:530.3px;font-size:20.78px;font-weight:bold;color:#2e6bb3;transform:scaleX(0.9695);">EF: <span class="r" style="color:#141414">exploración física</span></div>
<div class="t" id="t64" style="left:1769.0px;top:560.3px;font-size:20.78px;font-weight:bold;color:#2e6bb3;transform:scaleX(1.0013);">EMT: <span class="r" style="color:#141414">estimulación magnética transcraneal</span></div>
<div class="t" id="t65" style="left:1769.0px;top:590.3px;font-size:20.78px;font-weight:bold;color:#2e6bb3;transform:scaleX(0.9891);">ISRS: <span class="r" style="color:#141414">inhibidores selectivos de la recaptación</span></div>
<div class="t n" id="t66" style="left:1769.0px;top:615.3px;font-size:20.78px;font-weight:normal;color:#2e6bb3;transform:scaleX(0.9966);"><span class="r" style="color:#141414">de la serotonina</span></div>
<div class="t" id="t67" style="left:1769.0px;top:645.3px;font-size:20.78px;font-weight:bold;color:#2e6bb3;transform:scaleX(0.9826);">PER: <span class="r" style="color:#141414">prevención de la exposición y la respuesta</span></div>
<div class="t" id="t68" style="left:1769.0px;top:675.3px;font-size:20.78px;font-weight:bold;color:#2e6bb3;transform:scaleX(1.0013);">TCC: <span class="r" style="color:#141414">terapia cognitivo-conductual</span></div>
<div class="t" id="t69" style="left:1769.0px;top:705.3px;font-size:20.78px;font-weight:bold;color:#2e6bb3;transform:scaleX(1.0033);">TOC: <span class="r" style="color:#141414">trastorno obsesivo-compulsivo</span></div>
<div class="t" id="t70" style="left:1769.0px;top:735.3px;font-size:20.78px;font-weight:bold;color:#2e6bb3;transform:scaleX(0.9863);">Y-BOCS: <span class="r" style="color:#141414">Yale-Brown Obsessive Compulsive Scale</span></div>
</body></html>
